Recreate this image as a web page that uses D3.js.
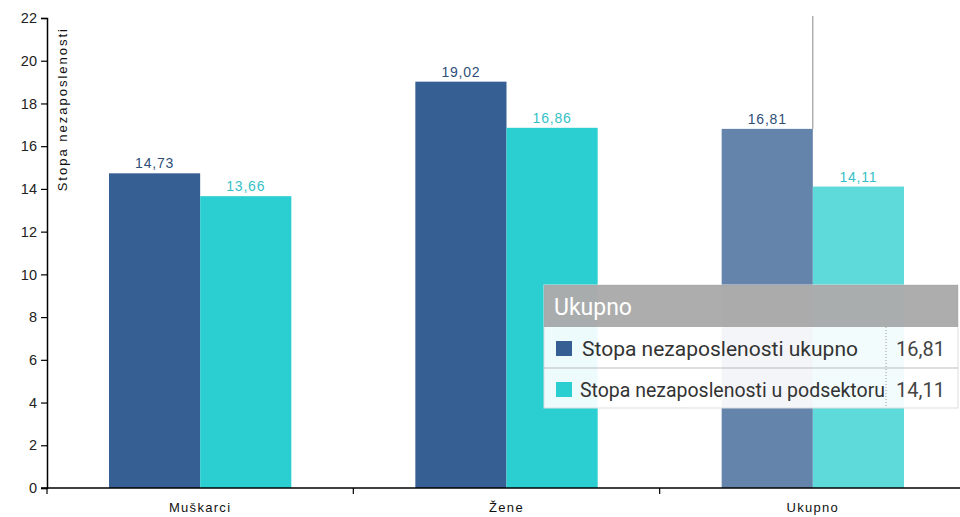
<!DOCTYPE html>
<html><head><meta charset="utf-8">
<script src="https://cdn.jsdelivr.net/npm/d3@7"></script>
<style>
body{margin:0;background:#fff;overflow:hidden}
svg{display:block}
</style></head>
<body>
<svg id="chart" width="960" height="517"></svg>
<script>
const categories = ["Muškarci", "Žene", "Ukupno"];
const seriesNames = ["Stopa nezaposlenosti ukupno", "Stopa nezaposlenosti u podsektoru"];
const seriesTotal = [14.73, 19.02, 16.81];
const seriesSub = [13.66, 16.86, 14.11];
const yTicks = [0,2,4,6,8,10,12,14,16,18,20,22];
const yLabel = "Stopa nezaposlenosti";
const hovered = "Ukupno";

const colors = ["#365f93", "#2bcfd1"];
const hoverColors = ["#6584ac", "#5fdada"];
const labelColors = ["#2f4f78", "#36bfc7"];

const fmt = v => d3.format(".2f")(v).replace(".", ",");

const svg = d3.select("#chart");
const mLeft = 47, mRight = 966, mTop = 18, mBottom = 488;

const x0 = d3.scaleBand().domain(categories).range([mLeft, mRight]).paddingInner(0).paddingOuter(0);
const x1 = d3.scaleBand().domain([0,1]).range([0, x0.bandwidth()]).paddingOuter(0.68).paddingInner(0);
const y = d3.scaleLinear().domain([0, 22]).range([mBottom, mTop]);

const data = categories.map((c, i) => ({cat: c, vals: [seriesTotal[i], seriesSub[i]]}));

const g = svg.append("g");
const groups = g.selectAll(".grp").data(data).join("g")
  .attr("transform", d => `translate(${x0(d.cat)},0)`);

groups.selectAll("rect").data(d => d.vals.map((v, k) => ({v, k, cat: d.cat}))).join("rect")
  .attr("x", d => x1(d.k))
  .attr("width", x1.bandwidth())
  .attr("y", d => y(d.v))
  .attr("height", d => y(0) - y(d.v))
  .attr("fill", d => d.cat === hovered ? hoverColors[d.k] : colors[d.k]);

groups.selectAll("text").data(d => d.vals.map((v, k) => ({v, k}))).join("text")
  .attr("x", d => x1(d.k) + x1.bandwidth() / 2)
  .attr("y", d => y(d.v) - 5)
  .attr("text-anchor", "middle")
  .attr("font-family", "Liberation Sans, Arial, sans-serif")
  .attr("font-size", 14)
  .attr("letter-spacing", "0.8px")
  .attr("fill", d => labelColors[d.k])
  .text(d => fmt(d.v));

// hover guide line
const hx = x0(hovered) + x1(1);
svg.append("line").attr("x1", hx).attr("x2", hx).attr("y1", mTop - 2).attr("y2", y(seriesTotal[2]))
  .attr("stroke", "#888").attr("stroke-width", 1);

// y axis
const yAxis = svg.append("g").attr("transform", `translate(${mLeft},0)`)
  .call(d3.axisLeft(y).tickValues(yTicks).tickSize(6).tickPadding(4).tickFormat(d3.format("d")));
yAxis.select(".domain").attr("stroke", "#000").attr("stroke-width", 1.5);
yAxis.selectAll(".tick line").attr("stroke", "#000").attr("stroke-width", 1.2);
yAxis.selectAll("text").attr("font-family", "Liberation Sans, Arial, sans-serif").attr("font-size", 14.5).attr("fill", "#222");

// x axis
const xAxisG = svg.append("g").attr("transform", `translate(0,${mBottom})`);
xAxisG.append("line").attr("x1", mLeft - 6).attr("x2", 960).attr("y1", 0).attr("y2", 0)
  .attr("stroke", "#000").attr("stroke-width", 1.5);
xAxisG.selectAll(".xt").data(categories.slice(1)).join("line")
  .attr("x1", d => x0(d)).attr("x2", d => x0(d)).attr("y1", 0).attr("y2", 6)
  .attr("stroke", "#000").attr("stroke-width", 1.2);
xAxisG.append("line").attr("x1", mLeft).attr("x2", mLeft).attr("y1", 0).attr("y2", 6)
  .attr("stroke", "#000").attr("stroke-width", 1.2);
xAxisG.selectAll(".xl").data(categories).join("text")
  .attr("x", d => x0(d) + x0.bandwidth() / 2)
  .attr("y", 24)
  .attr("text-anchor", "middle")
  .attr("font-family", "Liberation Sans, Arial, sans-serif")
  .attr("font-size", 13)
  .attr("letter-spacing", "1.3px")
  .attr("fill", "#111")
  .text(d => d);

// y label
svg.append("text")
  .attr("transform", `translate(67,27) rotate(-90)`)
  .attr("text-anchor", "end")
  .attr("font-family", "Liberation Sans, Arial, sans-serif")
  .attr("font-size", 13)
  .attr("letter-spacing", "2px")
  .attr("fill", "#111")
  .text(yLabel);

// tooltip
const tt = svg.append("g").attr("transform", "translate(544,285)");
const tw = 414;
tt.append("rect").attr("x", 0).attr("y", 0).attr("width", tw).attr("height", 123)
  .attr("fill", "rgba(255,255,255,0.92)").attr("stroke", "#ddd");
tt.append("rect").attr("x", 0).attr("y", 0).attr("width", tw).attr("height", 42)
  .attr("fill", "rgba(150,150,150,0.78)");
tt.append("text").attr("x", 10).attr("y", 30)
  .attr("font-family", "Roboto, sans-serif").attr("font-size", 23).attr("fill", "#fff")
  .text(hovered);
tt.append("line").attr("x1", 0).attr("x2", tw).attr("y1", 83).attr("y2", 83).attr("stroke", "#bbb");
tt.append("line").attr("x1", 342).attr("x2", 342).attr("y1", 42).attr("y2", 123)
  .attr("stroke", "#999").attr("stroke-dasharray", "1,2");
const rowVals = [seriesTotal[2], seriesSub[2]];
const rowX = [38, 36], rowLen = [276, 305];
seriesNames.forEach((n, k) => {
  const ry = 42 + k * 41;
  tt.append("rect").attr("x", 12).attr("y", ry + 14).attr("width", 16).attr("height", 15).attr("fill", colors[k]);
  tt.append("text").attr("x", rowX[k]).attr("y", ry + 29)
    .attr("font-family", "Roboto, sans-serif").attr("font-size", 20).attr("fill", "#333")
    .attr("textLength", rowLen[k]).attr("lengthAdjust", "spacingAndGlyphs")
    .text(n);
  tt.append("text").attr("x", 401).attr("y", ry + 29).attr("text-anchor", "end")
    .attr("font-family", "Roboto, sans-serif").attr("font-size", 20).attr("fill", "#444")
    .text(fmt(rowVals[k]));
});
</script>
</body></html>
